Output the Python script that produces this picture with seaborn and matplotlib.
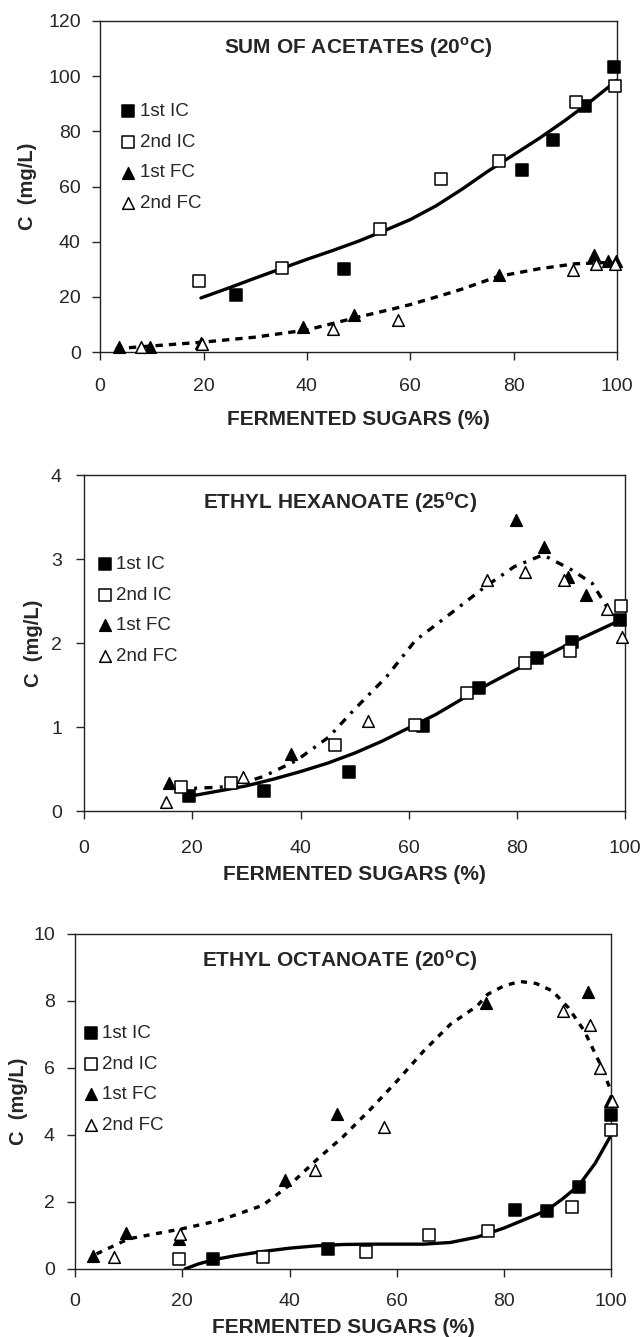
import numpy as np
import pandas as pd
import matplotlib
matplotlib.use("Agg")
import matplotlib.pyplot as plt
import seaborn as sns

# ---------------- data ----------------
series_labels = ["1st IC", "2nd IC", "1st FC", "2nd FC"]

# Panel 1: Sum of acetates (20 C)
p1_ic1_x = [26.2, 47.1, 81.7, 87.7, 93.8, 99.4]
p1_ic1_y = [20.8, 30.2, 65.9, 76.7, 89.1, 103.3]
p1_ic2_x = [19.1, 35.2, 54.2, 65.9, 77.2, 92.1, 99.6]
p1_ic2_y = [25.7, 30.5, 44.7, 62.6, 69.2, 90.6, 96.4]
p1_fc1_x = [3.6, 9.7, 19.6, 39.3, 49.2, 77.1, 95.6, 98.2, 99.8]
p1_fc1_y = [1.8, 1.8, 3.3, 9.1, 13.3, 27.8, 35.0, 33.0, 33.0]
p1_fc2_x = [7.9, 19.8, 45.0, 57.7, 91.4, 96.0, 99.6]
p1_fc2_y = [1.8, 3.0, 8.5, 11.7, 29.8, 32.0, 32.0]
p1_ic_fit_x = [19.5, 25, 30, 35, 40, 45, 50, 55, 60, 65, 70, 75, 80, 85, 90, 95, 100]
p1_ic_fit_y = [19.6, 23.3, 26.8, 30.2, 33.6, 36.8, 40.2, 44.0, 48.0, 53.0, 59.0, 65.5, 71.5, 77.5, 84.0, 91.0, 98.5]
p1_fc_fit_x = [3, 10, 20, 30, 40, 50, 57, 60, 66, 70, 77, 85, 92, 100]
p1_fc_fit_y = [1.2, 2.2, 3.6, 5.4, 8.0, 12.7, 15.8, 17.2, 20.5, 22.8, 27.4, 30.2, 32.0, 32.6]

# Panel 2: Ethyl hexanoate (25 C)
p2_ic1_x = [19.4, 33.2, 48.9, 62.7, 73.0, 83.7, 90.1, 99.1]
p2_ic1_y = [0.18, 0.24, 0.46, 1.01, 1.47, 1.82, 2.01, 2.27]
p2_ic2_x = [17.9, 27.1, 46.4, 61.1, 70.7, 81.4, 89.7, 99.2]
p2_ic2_y = [0.29, 0.33, 0.79, 1.03, 1.41, 1.76, 1.91, 2.44]
p2_fc1_x = [15.7, 38.2, 79.8, 84.9, 89.4, 92.8]
p2_fc1_y = [0.33, 0.68, 3.46, 3.14, 2.79, 2.57]
p2_fc2_x = [15.2, 29.3, 52.5, 74.5, 81.4, 88.6, 96.6, 99.4]
p2_fc2_y = [0.11, 0.41, 1.07, 2.75, 2.85, 2.75, 2.41, 2.07]
p2_ic_fit_x = [19, 25, 30, 35, 40, 45, 50, 55, 60, 65, 70, 75, 80, 85, 90, 95, 100]
p2_ic_fit_y = [0.17, 0.24, 0.30, 0.38, 0.47, 0.57, 0.69, 0.83, 0.99, 1.15, 1.34, 1.52, 1.69, 1.84, 2.00, 2.15, 2.30]
p2_fc_fit_x = [15.6, 20.2, 27.0, 33.1, 39.2, 45.2, 49.8, 55.9, 61.2, 67.3, 74.1, 79.5, 84.8, 90.1, 93.9, 96.6]
p2_fc_fit_y = [0.29, 0.27, 0.29, 0.41, 0.60, 0.88, 1.20, 1.60, 2.03, 2.33, 2.67, 2.91, 3.05, 2.87, 2.71, 2.43]

# Panel 3: Ethyl octanoate (20 C)
p3_ic1_x = [25.7, 47.2, 82.1, 88.1, 94.0, 99.9]
p3_ic1_y = [0.29, 0.60, 1.76, 1.73, 2.46, 4.60]
p3_ic2_x = [19.3, 35.1, 54.3, 66.0, 77.1, 92.7, 99.9]
p3_ic2_y = [0.29, 0.37, 0.52, 1.01, 1.14, 1.86, 4.15]
p3_fc1_x = [3.3, 9.4, 19.3, 39.1, 48.9, 76.7, 95.7, 99.8]
p3_fc1_y = [0.40, 1.06, 0.89, 2.66, 4.62, 7.93, 8.28, 5.00]
p3_fc2_x = [7.3, 19.5, 44.7, 57.7, 91.1, 96.1, 98.0, 100.2]
p3_fc2_y = [0.37, 1.05, 2.96, 4.25, 7.70, 7.28, 5.99, 5.00]
p3_ic_fit_x = [20.5, 23, 26, 30, 35, 40, 45, 50, 55, 60, 65, 70, 75, 80, 85, 88, 91, 94, 97, 100]
p3_ic_fit_y = [0.0, 0.15, 0.28, 0.40, 0.52, 0.62, 0.69, 0.73, 0.74, 0.74, 0.74, 0.79, 0.95, 1.22, 1.55, 1.75, 2.10, 2.50, 3.15, 4.00]
p3_fc_fit_x = [4, 10, 20, 27, 35, 40, 45, 50, 55, 60, 65, 70, 75, 77, 80, 83, 86, 89, 92, 95, 98, 100]
p3_fc_fit_y = [0.45, 0.90, 1.20, 1.45, 1.90, 2.50, 3.25, 3.95, 4.75, 5.60, 6.50, 7.30, 7.85, 8.20, 8.45, 8.58, 8.52, 8.30, 7.80, 7.10, 6.10, 5.30]

titles = ["SUM OF ACETATES (20$^{\\mathbf{o}}$C)",
          "ETHYL HEXANOATE (25$^{\\mathbf{o}}$C)",
          "ETHYL OCTANOATE (20$^{\\mathbf{o}}$C)"]
y_limits = [(0, 120), (0, 4), (0, 10)]
y_ticks = [[0, 20, 40, 60, 80, 100, 120], [0, 1, 2, 3, 4], [0, 2, 4, 6, 8, 10]]
x_ticks = [0, 20, 40, 60, 80, 100]
x_label = "FERMENTED SUGARS (%)"
y_label = "C  (mg/L)"

# ---------------- style ----------------
sns.set_style("ticks")
plt.rcParams["font.family"] = ["Liberation Sans", "DejaVu Sans"]
plt.rcParams["mathtext.fontset"] = "custom"
plt.rcParams["mathtext.rm"] = "Liberation Sans"
plt.rcParams["mathtext.bf"] = "Liberation Sans:bold"
plt.rcParams["axes.edgecolor"] = "#222222"
plt.rcParams["axes.linewidth"] = 1.0

fig = plt.figure(figsize=(6.42, 13.37), dpi=100)

panels = [
    dict(pos=[0.156, 0.7367, 0.805, 0.2476],
         pts=[(p1_ic1_x, p1_ic1_y), (p1_ic2_x, p1_ic2_y), (p1_fc1_x, p1_fc1_y), (p1_fc2_x, p1_fc2_y)],
         ic_fit=(p1_ic_fit_x, p1_ic_fit_y), fc_fit=(p1_fc_fit_x, p1_fc_fit_y),
         dash=(2.2, 1.8), title_xy=(0.50, 0.92), leg=(0.040, 0.752),
         ylab_x=-0.122, xlab_y=-0.175, xpad=13, ypad=8),
    dict(pos=[0.131, 0.3934, 0.843, 0.2513],
         pts=[(p2_ic1_x, p2_ic1_y), (p2_ic2_x, p2_ic2_y), (p2_fc1_x, p2_fc1_y), (p2_fc2_x, p2_fc2_y)],
         ic_fit=(p2_ic_fit_x, p2_ic_fit_y), fc_fit=(p2_fc_fit_x, p2_fc_fit_y),
         dash=(0.9, 2.2, 2.4, 2.2), title_xy=(0.473, 0.917), leg=(0.025, 0.759),
         ylab_x=-0.076, xlab_y=-0.161, xpad=15, ypad=10),
    dict(pos=[0.117, 0.0509, 0.835, 0.2506],
         pts=[(p3_ic1_x, p3_ic1_y), (p3_ic2_x, p3_ic2_y), (p3_fc1_x, p3_fc1_y), (p3_fc2_x, p3_fc2_y)],
         ic_fit=(p3_ic_fit_x, p3_ic_fit_y), fc_fit=(p3_fc_fit_x, p3_fc_fit_y),
         dash=(1.8, 2.0), title_xy=(0.493, 0.92), leg=(0.016, 0.728),
         ylab_x=-0.087, xlab_y=-0.146, xpad=11.5, ypad=8.5),
]

marker_styles = [
    dict(marker="s", color="black", edgecolor="black"),
    dict(marker="s", color="white", edgecolor="black"),
    dict(marker="^", color="black", edgecolor="black"),
    dict(marker="^", color="white", edgecolor="black"),
]

for i, p in enumerate(panels):
    ax = fig.add_axes(p["pos"])
    # fitted curves
    xf, yf = p["ic_fit"]
    sns.lineplot(x=xf, y=yf, ax=ax, color="black", lw=2.4, legend=False, zorder=2)
    xf, yf = p["fc_fit"]
    sns.lineplot(x=xf, y=yf, ax=ax, color="black", lw=2.4, legend=False, zorder=2,
                 linestyle=(0, p["dash"]))
    # points
    for (xs, ys), ms, lab in zip(p["pts"], marker_styles, series_labels):
        sns.scatterplot(x=xs, y=ys, ax=ax, s=70, linewidth=1.1, label=lab, zorder=3,
                        clip_on=False, **ms)
    ax.set_xlim(0, 100)
    ax.set_ylim(*y_limits[i])
    ax.set_xticks(x_ticks)
    ax.set_yticks(y_ticks[i])
    for s in ["top", "right", "left", "bottom"]:
        ax.spines[s].set_visible(True)
    ax.tick_params(axis="x", direction="out", length=6, width=1, labelsize=14, pad=p["xpad"])
    ax.tick_params(axis="y", direction="out", length=6, width=1, labelsize=14, pad=p["ypad"])
    ax.set_xlabel(x_label, fontsize=15, fontweight="bold")
    ax.set_ylabel(y_label, fontsize=14.5, fontweight="bold")
    ax.yaxis.set_label_coords(p["ylab_x"], 0.5)
    ax.xaxis.set_label_coords(0.5, p["xlab_y"])
    ax.text(p["title_xy"][0], p["title_xy"][1], titles[i], transform=ax.transAxes,
            ha="center", va="center", fontsize=15, fontweight="bold")
    ax.legend(loc="upper left", bbox_to_anchor=p["leg"], frameon=False, fontsize=13.5,
              handlelength=0.8, handletextpad=0.2, labelspacing=0.72, borderpad=0,
              borderaxespad=0)

fig.savefig("out.png", dpi=100)
